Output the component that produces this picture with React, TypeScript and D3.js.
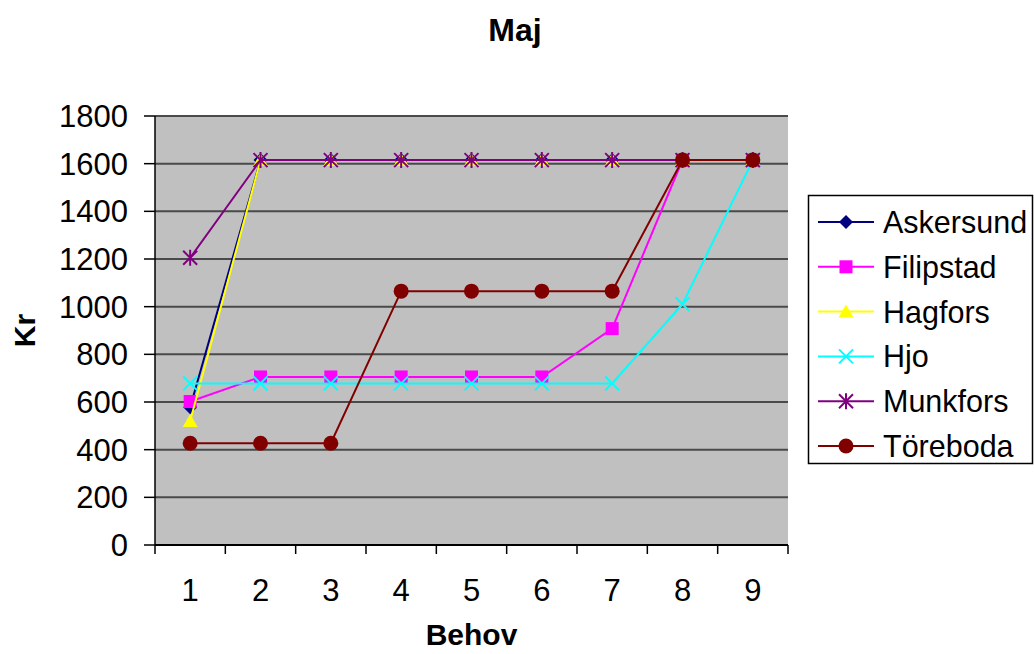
import * as d3 from "d3";

const categories = ["1", "2", "3", "4", "5", "6", "7", "8", "9"];
const seriesNames = ["Askersund", "Filipstad", "Hagfors", "Hjo", "Munkfors", "Töreboda"];
const askersund = [578, 1615, 1615, 1615, 1615, 1615, 1615, 1615, 1615];
const filipstad = [602, 705, 705, 705, 705, 705, 908, 1615, 1615];
const hagfors = [520, 1615, 1615, 1615, 1615, 1615, 1615, 1615, 1615];
const hjo = [678, 678, 678, 678, 678, 678, 678, 1010, 1615];
const munkfors = [1205, 1615, 1615, 1615, 1615, 1615, 1615, 1615, 1615];
const toreboda = [427, 427, 427, 1065, 1065, 1065, 1065, 1615, 1615];
const yTicks = [0, 200, 400, 600, 800, 1000, 1200, 1400, 1600, 1800];

const seriesValues = [askersund, filipstad, hagfors, hjo, munkfors, toreboda];
const colors = ["#000080", "#FF00FF", "#FFFF00", "#00FFFF", "#800080", "#800000"];
const markers = ["diamond", "square", "triangle", "x", "star", "circle"];

const W = 1034, H = 654;
const left = 155, right = 788, top = 116, bottom = 545;
const font = "'Liberation Sans', Arial, sans-serif";

function Marker({ type, x, y, color }: { type: string; x: number; y: number; color: string }) {
  if (type === "diamond") {
    return <path d={`M${x},${y - 7}L${x + 7},${y}L${x},${y + 7}L${x - 7},${y}Z`} fill={color} />;
  }
  if (type === "square") {
    return <rect x={x - 6.5} y={y - 6.5} width={13} height={13} fill={color} />;
  }
  if (type === "triangle") {
    return <path d={`M${x},${y - 7}L${x + 7.5},${y + 6}L${x - 7.5},${y + 6}Z`} fill={color} />;
  }
  if (type === "x") {
    return (
      <path d={`M${x - 7},${y - 7}L${x + 7},${y + 7}M${x - 7},${y + 7}L${x + 7},${y - 7}`}
        stroke={color} strokeWidth={2} fill="none" />
    );
  }
  if (type === "star") {
    return (
      <path d={`M${x - 7},${y - 7}L${x + 7},${y + 7}M${x - 7},${y + 7}L${x + 7},${y - 7}M${x},${y - 8}L${x},${y + 8}`}
        stroke={color} strokeWidth={2} fill="none" />
    );
  }
  return <circle cx={x} cy={y} r={7.5} fill={color} />;
}

export default function App() {
  const xBand = d3.scaleBand<string>().domain(categories).range([left, right]).padding(0);
  const xc = (c: string) => (xBand(c) as number) + xBand.bandwidth() / 2;
  const y = d3.scaleLinear().domain([0, 1800]).range([bottom, top]);
  const line = d3.line<number>().x((_, i) => xc(categories[i])).y((d) => y(d));

  const boundaries = categories.map((c) => xBand(c) as number).concat([right]);

  return (
    <svg width={W} height={H} style={{ position: "absolute", left: 0, top: 0, background: "#fff" }}
      fontFamily={font}>
      <rect x={left} y={top} width={right - left} height={bottom - top} fill="#C0C0C0" />
      {yTicks.map((t) => (
        <g key={t}>
          {t > 0 && <line x1={left} x2={right} y1={y(t)} y2={y(t)} stroke="#4a4a4a" strokeWidth={2} />}
          <line x1={left - 11} x2={left} y1={y(t)} y2={y(t)} stroke="#000" strokeWidth={1.5} />
          <text x={128} y={y(t)} dy="0.36em" textAnchor="end" fontSize={31}>{t}</text>
        </g>
      ))}
      <line x1={left} x2={left} y1={top} y2={bottom} stroke="#000" strokeWidth={1.5} />
      <line x1={left} x2={right} y1={bottom} y2={bottom} stroke="#000" strokeWidth={2} />
      {boundaries.map((bx, i) => (
        <line key={i} x1={bx} x2={bx} y1={bottom} y2={bottom + 9} stroke="#000" strokeWidth={1.5} />
      ))}
      {categories.map((c) => (
        <text key={c} x={xc(c)} y={601} textAnchor="middle" fontSize={31}>{c}</text>
      ))}
      {seriesValues.map((vals, si) => (
        <g key={seriesNames[si]}>
          <path d={line(vals) || ""} fill="none" stroke={colors[si]} strokeWidth={2} />
          {vals.map((v, i) => (
            <Marker key={i} type={markers[si]} x={xc(categories[i])} y={y(v)} color={colors[si]} />
          ))}
        </g>
      ))}
      <text x={515} y={41} textAnchor="middle" fontSize={32} fontWeight="bold">Maj</text>
      <text x={(left + right) / 2} y={645} textAnchor="middle" fontSize={30} fontWeight="bold">Behov</text>
      <text transform={`translate(35,${(top + bottom) / 2}) rotate(-90)`} textAnchor="middle"
        fontSize={30} fontWeight="bold">Kr</text>
      <rect x={808.5} y={195.5} width={224} height={268} fill="#fff" stroke="#000" strokeWidth={1.5} />
      {seriesNames.map((name, si) => {
        const ly = 222 + si * 44.8;
        return (
          <g key={name}>
            <line x1={818} x2={874} y1={ly} y2={ly} stroke={colors[si]} strokeWidth={2} />
            <Marker type={markers[si]} x={846} y={ly} color={colors[si]} />
            <text x={883} y={ly} dy="0.36em" fontSize={30.5}>{name}</text>
          </g>
        );
      })}
    </svg>
  );
}
